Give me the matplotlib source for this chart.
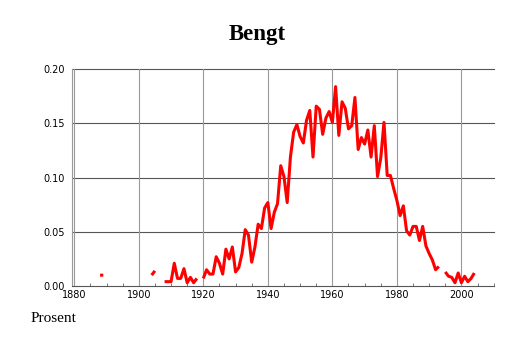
import numpy as np
import matplotlib
matplotlib.use('Agg')
import matplotlib.pyplot as plt
from matplotlib.ticker import MultipleLocator

nan = np.nan
years = list(range(1888, 2005))
share = [
  0.010, 0.010,                                   # 1888-1889
  nan, nan, nan, nan, nan, nan, nan, nan, nan, nan, nan, nan, nan, nan,  # 1890-1903
  0.010, 0.014,                                   # 1904-1905
  nan, nan,                                       # 1906-1907
  0.004, 0.004, 0.004, 0.021, 0.007, 0.007, 0.016, 0.003, 0.008, 0.003, 0.007,  # 1908-1918
  nan,                                            # 1919
  0.007, 0.015, 0.011, 0.011, 0.027, 0.021, 0.011, 0.034, 0.025, 0.036,  # 1920-1929
  0.013, 0.017, 0.030, 0.052, 0.047, 0.022, 0.036, 0.057, 0.053, 0.072,  # 1930-1939
  0.077, 0.053, 0.068, 0.076, 0.111, 0.101, 0.077, 0.119, 0.142, 0.149,  # 1940-1949
  0.138, 0.132, 0.153, 0.162, 0.119, 0.166, 0.163, 0.140, 0.155, 0.161,  # 1950-1959
  0.151, 0.184, 0.139, 0.170, 0.164, 0.145, 0.148, 0.174, 0.126, 0.137,  # 1960-1969
  0.131, 0.144, 0.119, 0.148, 0.101, 0.118, 0.151, 0.102, 0.102, 0.090,  # 1970-1979
  0.079, 0.065, 0.074, 0.051, 0.047, 0.055, 0.055, 0.042, 0.055, 0.037,  # 1980-1989
  0.030, 0.024, 0.015, 0.018,                     # 1990-1993
  nan,                                            # 1994
  0.013, 0.009, 0.008, 0.003, 0.012, 0.003, 0.009, 0.004, 0.007, 0.012,  # 1995-2004
]
x_ticks = [1880, 1900, 1920, 1940, 1960, 1980, 2000]
y_ticks = [0.00, 0.05, 0.10, 0.15, 0.20]

fig = plt.figure(figsize=(5.14, 3.43), dpi=100)
ax = fig.add_axes([72 / 514, 1 - 286 / 343, 422 / 514, 216.7 / 343])

ax.plot(years, share, color='#ff0000', lw=2.2, solid_capstyle='butt', zorder=3)

ax.set_xlim(1879.3, 2010.1)
ax.set_ylim(0, 0.2)
ax.set_xticks(x_ticks)
ax.set_yticks(y_ticks)
ax.set_xticklabels([str(t) for t in x_ticks])
ax.set_yticklabels(['%.2f' % t for t in y_ticks])
ax.xaxis.set_minor_locator(MultipleLocator(5))

# grid: horizontal darker than vertical
for t in y_ticks[1:]:
  ax.axhline(t, color='#555555', lw=0.8, zorder=1, clip_on=False)
for t in x_ticks:
  ax.axvline(t, color='#999999', lw=0.8, zorder=1)

for s in ['top', 'right']:
  ax.spines[s].set_visible(False)
ax.spines['left'].set_color('#999999')
ax.spines['left'].set_linewidth(0.8)
ax.spines['bottom'].set_color('#555555')
ax.spines['bottom'].set_linewidth(0.8)

ax.tick_params(axis='y', length=0, pad=5, labelsize=7)
ax.tick_params(axis='x', which='major', direction='in', length=0, pad=3, labelsize=7)
ax.tick_params(axis='x', which='minor', direction='in', length=2.5, color='#777777', width=0.7)

fig.text(0.5, 1 - 40 / 343, 'Bengt', ha='center', va='baseline',
         fontsize=16.5, fontweight='bold', family='Liberation Serif')
fig.text(31 / 514, 1 - 322 / 343, 'Prosent', ha='left', va='baseline',
         fontsize=11, family='Liberation Serif')

fig.savefig('out.png', dpi=100)
